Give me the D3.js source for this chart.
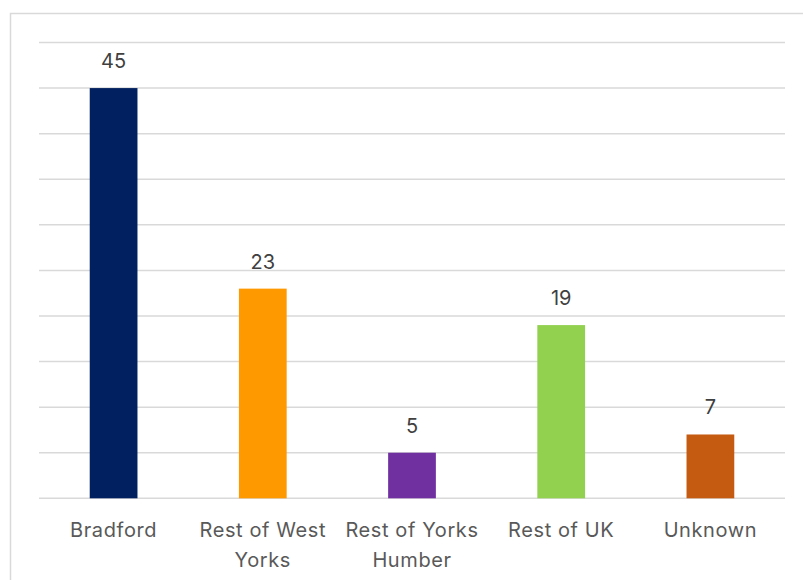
<!DOCTYPE html>
<html>
<head>
<meta charset="utf-8">
<script src="https://cdn.jsdelivr.net/npm/d3@7"></script>
<style>
  html, body { margin: 0; padding: 0; background: #fff; }
  svg { display: block; }
</style>
</head>
<body>
<svg id="chart" width="803" height="580"></svg>
<script>
// Origin of records by area
const categories = ["Bradford", "Rest of West Yorks", "Rest of Yorks Humber", "Rest of UK", "Unknown"];
const labelLines = [["Bradford"], ["Rest of West", "Yorks"], ["Rest of Yorks", "Humber"], ["Rest of UK"], ["Unknown"]];
const values = [45, 23, 5, 19, 7];
const colors = ["#002060", "#FF9900", "#7030A0", "#92D050", "#C55A11"];
const gridTicks = [0, 5, 10, 15, 20, 25, 30, 35, 40, 45, 50];

const svg = d3.select("#chart");
const font = "Inter, 'Open Sans', sans-serif";

// Outer chart frame
svg.append("rect")
  .attr("x", 10.5).attr("y", 13.5)
  .attr("width", 820).attr("height", 600)
  .attr("fill", "#fff")
  .attr("stroke", "#d9d9d9").attr("stroke-width", 1.5);

const plot = { left: 39, right: 785, top: 42.5, bottom: 498.3 };

const x = d3.scaleBand()
  .domain(categories)
  .range([plot.left, plot.right])
  .paddingInner(0.68).paddingOuter(0.34);

const y = d3.scaleLinear()
  .domain([0, 50])
  .range([plot.bottom, plot.top]);

// Horizontal gridlines
svg.append("g")
  .selectAll("line")
  .data(gridTicks)
  .join("line")
  .attr("x1", plot.left).attr("x2", plot.right)
  .attr("y1", d => y(d)).attr("y2", d => y(d))
  .attr("stroke", "#d9d9d9").attr("stroke-width", 1.5);

// Bars
svg.append("g")
  .selectAll("rect")
  .data(values)
  .join("rect")
  .attr("x", (d, i) => x(categories[i]))
  .attr("width", x.bandwidth())
  .attr("y", d => y(d))
  .attr("height", d => y(0) - y(d))
  .attr("fill", (d, i) => colors[i]);

// Value labels
svg.append("g")
  .selectAll("text")
  .data(values)
  .join("text")
  .attr("x", (d, i) => x(categories[i]) + x.bandwidth() / 2)
  .attr("y", d => y(d) - 20)
  .attr("text-anchor", "middle")
  .attr("font-family", font)
  .attr("font-size", 20)
  .attr("fill", "#404040")
  .text(d => d);

// Category axis labels
const xl = svg.append("g");
labelLines.forEach((lines, i) => {
  const cx = x(categories[i]) + x.bandwidth() / 2;
  const t = xl.append("text")
    .attr("x", cx)
    .attr("y", 537)
    .attr("text-anchor", "middle")
    .attr("font-family", font)
    .attr("font-size", 20)
    .attr("letter-spacing", 0.6)
    .attr("fill", "#595959");
  lines.forEach((ln, j) => {
    t.append("tspan")
      .attr("x", cx)
      .attr("dy", j === 0 ? 0 : 29.5)
      .text(ln);
  });
});
</script>
</body>
</html>
